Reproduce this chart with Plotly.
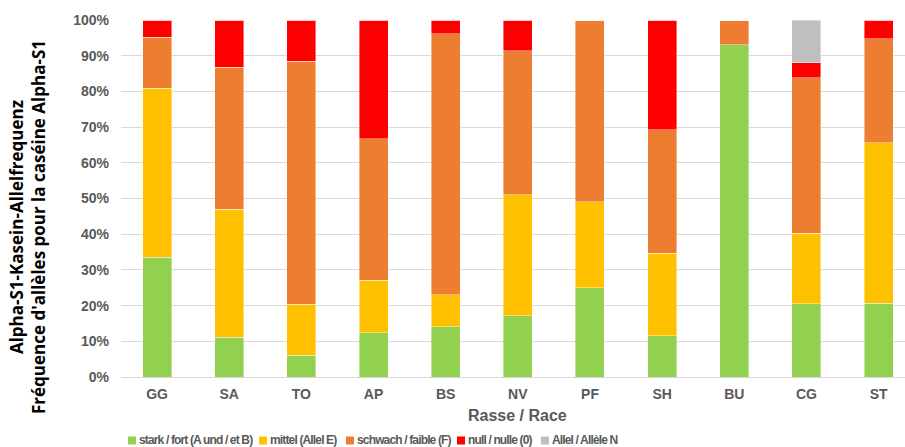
import plotly.graph_objects as go

# Breeds (Rasse / Race)
breeds = ["GG", "SA", "TO", "AP", "BS", "NV", "PF", "SH", "BU", "CG", "ST"]

# Allele frequency shares per breed (fraction of 1)
stark = [0.336, 0.111, 0.061, 0.124, 0.141, 0.172, 0.250, 0.116, 0.930, 0.205, 0.207]
mittel = [0.473, 0.359, 0.143, 0.147, 0.089, 0.338, 0.241, 0.230, 0.000, 0.197, 0.449]
schwach = [0.143, 0.397, 0.681, 0.396, 0.732, 0.404, 0.509, 0.347, 0.070, 0.436, 0.292]
null = [0.048, 0.133, 0.115, 0.333, 0.038, 0.086, 0.000, 0.307, 0.000, 0.042, 0.052]
allel_n = [0.000, 0.000, 0.000, 0.000, 0.000, 0.000, 0.000, 0.000, 0.000, 0.120, 0.000]

series_names = [
    "stark / fort (A und / et B)",
    "mittel (Allel E)",
    "schwach / faible (F)",
    "null / nulle (0)",
    "Allel / Allèle N",
]
series_values = [stark, mittel, schwach, null, allel_n]
series_colors = ["#92D050", "#FFC000", "#ED7D31", "#FF0000", "#BFBFBF"]

W, H = 905, 447
PLOT_L, PLOT_R, PLOT_T, PLOT_B = 121, 905, 20, 377
CAT_W = 72.15  # pixel width of one category slot


def px_x(p):
    return (p - PLOT_L) / (PLOT_R - PLOT_L)


def px_y(p):
    return (PLOT_B - p) / (PLOT_B - PLOT_T)


fig = go.Figure()
for name, vals, col in zip(series_names, series_values, series_colors):
    fig.add_trace(go.Bar(
        x=breeds, y=vals, name=name,
        marker=dict(color=col, line=dict(color="rgba(255,255,255,0.55)", width=0.75)),
        hoverinfo="skip", showlegend=False,
    ))

tick_font = dict(family="Liberation Sans, Arial, sans-serif", size=14, color="#595959", weight="bold")

x_max = -0.5 + (PLOT_R - PLOT_L) / CAT_W
fig.update_layout(
    width=W, height=H,
    margin=dict(l=PLOT_L, r=W - PLOT_R, t=PLOT_T, b=H - PLOT_B, pad=0),
    barmode="stack", bargap=0.598,
    plot_bgcolor="white", paper_bgcolor="white",
    xaxis=dict(
        type="category", range=[-0.5, x_max], showgrid=False, showline=False,
        ticks="", tickfont=tick_font, ticklabelstandoff=7, fixedrange=True,
    ),
    yaxis=dict(
        range=[0, 1], dtick=0.1, tickformat=".0%", showgrid=True,
        gridcolor="#D9D9D9", gridwidth=1, zeroline=True, zerolinecolor="#D9D9D9",
        zerolinewidth=1, showline=False, ticks="", tickfont=tick_font,
        ticklabelstandoff=11, fixedrange=True,
    ),
    font=dict(family="Liberation Sans, Arial, sans-serif"),
)

annotations = []
# Y axis title (two lines)
annotations.append(dict(
    text="<b>Alpha-S1-Kasein-Allelfrequenz<br>Fréquence d'allèles pour la caséine Alpha-S1</b>",
    xref="paper", yref="paper", x=px_x(28), y=px_y(227), textangle=-90,
    showarrow=False, xanchor="center", yanchor="middle",
    font=dict(family="Open Sans, sans-serif", size=17, color="#000000"),
))
# X axis title
annotations.append(dict(
    text="<b>Rasse / Race</b>",
    xref="paper", yref="paper", x=px_x(PLOT_L + 5.5 * CAT_W), y=px_y(415),
    showarrow=False, xanchor="center", yanchor="middle",
    font=dict(family="Liberation Sans, Arial, sans-serif", size=16, color="#595959"),
))

# Legend row: swatch + tightly spaced label
legend_left = [128, 259, 346, 457, 541]
legend_cy = 440.5
shapes = []
for name, col, lx in zip(series_names, series_colors, legend_left):
    shapes.append(dict(
        type="rect", xref="paper", yref="paper",
        x0=px_x(lx), x1=px_x(lx + 8), y0=px_y(legend_cy + 4), y1=px_y(legend_cy - 4),
        fillcolor=col, line=dict(width=0),
    ))
    annotations.append(dict(
        text="<span style='letter-spacing:-0.85px'><b>" + name + "</b></span>",
        xref="paper", yref="paper",
        x=px_x(lx + 10), y=px_y(447.5), showarrow=False,
        xanchor="left", yanchor="bottom", borderpad=0,
        font=dict(family="Liberation Sans, Arial, sans-serif", size=12, color="#595959"),
    ))

fig.update_layout(annotations=annotations, shapes=shapes)
fig.write_html("out.html")
